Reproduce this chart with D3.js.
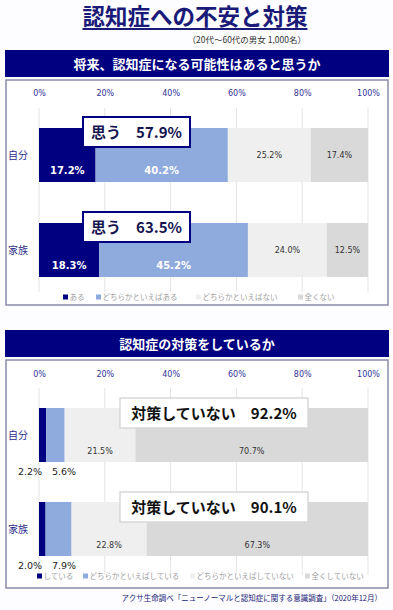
<!DOCTYPE html>
<html><head><meta charset="utf-8">
<script src="https://cdn.jsdelivr.net/npm/d3@7"></script>
<style>
html,body{margin:0;padding:0;background:#fff;}
svg{display:block;}
</style></head>
<body>
<script>
const rows = ["自分", "家族"];
const ticks = [0, 20, 40, 60, 80, 100];
// chart 1
const series1 = ["ある", "どちらかといえばある", "どちらかといえばない", "全くない"];
const values1 = [[17.2, 40.2, 25.2, 17.4], [18.3, 45.2, 24.0, 12.5]];
const callout1 = ["思う　57.9%", "思う　63.5%"];
// chart 2
const series2 = ["している", "どちらかといえばしている", "どちらかといえばしていない", "全くしていない"];
const values2 = [[2.2, 5.6, 21.5, 70.7], [2.0, 7.9, 22.8, 67.3]];
const callout2 = ["対策していない　92.2%", "対策していない　90.1%"];

const colors = ["#000080", "#8faadc", "#efefef", "#d9d9d9"];
const JP = "'Noto Sans CJK JP', 'Noto Sans', sans-serif";
const NUM = "'DejaVu Sans', Verdana, sans-serif";
const navy = "#000080";

const W = 393, H = 610;
const svg = d3.select("body").append("svg").attr("width", W).attr("height", H);
svg.append("rect").attr("width", W).attr("height", H).attr("fill", "#fdfdff");

// Title
const title = svg.append("text").attr("x", 195).attr("y", 25).attr("text-anchor", "middle")
  .attr("font-family", JP).attr("font-weight", 700).attr("font-size", 22.5).attr("fill", "#1a1a78")
  .text("認知症への不安と対策");
const tb = title.node().getBBox();
svg.append("rect").attr("x", tb.x).attr("y", 28).attr("width", tb.width).attr("height", 2).attr("fill", "#1a1a78");
svg.append("text").attr("x", 306).attr("y", 43).attr("text-anchor", "end")
  .attr("font-family", JP).attr("font-size", 8.5).attr("fill", "#333")
  .text("（20代〜60代の男女 1,000名）");

const x = d3.scaleLinear().domain([0, 100]).range([39, 368]);

function panel(cfg) {
  const g = svg.append("g");
  // header band
  g.append("rect").attr("x", 5).attr("y", cfg.bandY).attr("width", 384).attr("height", 27).attr("fill", navy);
  g.append("text").attr("x", 197).attr("y", cfg.bandY + 18.5).attr("text-anchor", "middle")
    .attr("font-family", JP).attr("font-weight", 700).attr("font-size", 13).attr("fill", "#fff").text(cfg.header);
  // panel box
  g.append("rect").attr("x", 6).attr("y", cfg.boxY).attr("width", 382).attr("height", cfg.boxH)
    .attr("fill", "#fff").attr("stroke", "#8a8aa8").attr("stroke-width", 1.5);
  // axis
  const axis = d3.axisTop(x).tickValues(ticks).tickFormat(d => d + "%").tickSize(0).tickPadding(0);
  const ag = g.append("g").attr("transform", `translate(0,${cfg.tickY})`).call(axis);
  ag.select(".domain").remove();
  ag.selectAll("text").attr("font-family", NUM).attr("font-size", 8).attr("fill", "#333399");
  // grid
  g.append("g").selectAll("line").data(ticks).join("line")
    .attr("x1", d => x(d)).attr("x2", d => x(d)).attr("y1", cfg.gridY0).attr("y2", cfg.gridY1)
    .attr("stroke", "#e4e4e4").attr("stroke-width", 1);
  const y = d3.scaleOrdinal().domain(rows).range(cfg.barY);
  cfg.values.forEach((vals, i) => {
    const r = rows[i];
    const y0 = y(r);
    const st = d3.stack().keys(d3.range(4))([vals]);
    st.forEach((s, k) => {
      const a = s[0][0], b = s[0][1];
      g.append("rect").attr("x", x(a)).attr("y", y0).attr("width", x(b) - x(a)).attr("height", cfg.barH)
        .attr("fill", colors[k]);
      cfg.label(g, k, vals[k], a, b, y0, i);
    });
    g.append("text").attr("x", 8).attr("y", y0 + cfg.barH / 2 + 4).attr("font-family", JP)
      .attr("font-size", 10).attr("fill", "#2e2e8a").text(r);
    // callout
    cfg.callout(g, i, y0);
  });
  // legend
  const lg = g.append("g");
  cfg.legendX.forEach((lx, k) => {
    lg.append("rect").attr("x", lx).attr("y", cfg.legendY - 5.5).attr("width", 5).attr("height", 5).attr("fill", colors[k]);
    lg.append("text").attr("x", lx + 6.5).attr("y", cfg.legendY).attr("font-family", JP).attr("font-size", 7.5)
      .attr("fill", "#a0a0a0").text(cfg.series[k]);
  });
}

panel({
  header: "将来、認知症になる可能性はあると思うか",
  bandY: 50, boxY: 80, boxH: 225, tickY: 96, gridY0: 108, gridY1: 292,
  barY: [128, 223], barH: 54, values: values1, series: series1,
  legendX: [63, 96, 196, 298], legendY: 300,
  label: (g, k, v, a, b, y0) => {
    const cx = x((a + b) / 2);
    const t = g.append("text").attr("x", cx).attr("text-anchor", "middle").attr("font-family", NUM)
      .text(v.toFixed(1) + "%");
    if (k < 2) t.attr("y", y0 + 46).attr("font-size", 10).attr("font-weight", 700).attr("fill", "#fff");
    else t.attr("y", y0 + 30).attr("font-size", 8).attr("fill", "#333");
  },
  callout: (g, i, y0) => {
    const by = y0 - 11;
    g.append("rect").attr("x", 83).attr("y", by).attr("width", 107).attr("height", 30)
      .attr("fill", "#fff").attr("stroke", navy).attr("stroke-width", 2);
    g.append("text").attr("x", 136.5).attr("y", by + 21).attr("text-anchor", "middle")
      .attr("font-family", JP).attr("font-weight", 700).attr("font-size", 15).attr("fill", "#141450")
      .text(callout1[i]);
  }
});

panel({
  header: "認知症の対策をしているか",
  bandY: 330, boxY: 360, boxH: 228, tickY: 377, gridY0: 388, gridY1: 575,
  barY: [408, 502], barH: 54, values: values2, series: series2,
  legendX: [37, 83, 190, 305], legendY: 579,
  label: (g, k, v, a, b, y0) => {
    if (k >= 2) {
      g.append("text").attr("x", x((a + b) / 2)).attr("y", y0 + 46).attr("text-anchor", "middle")
        .attr("font-family", NUM).attr("font-size", 8).attr("fill", "#333").text(v.toFixed(1) + "%");
    } else {
      g.append("text").attr("x", k === 0 ? 30 : 64).attr("y", y0 + 67).attr("text-anchor", "middle")
        .attr("font-family", NUM).attr("font-size", 9.5).attr("fill", "#222").text(v.toFixed(1) + "%");
    }
  },
  callout: (g, i, y0) => {
    const by = y0 - 10;
    g.append("rect").attr("x", 120).attr("y", by).attr("width", 188).attr("height", 30)
      .attr("fill", "#fff").attr("stroke", "#d8d8d8").attr("stroke-width", 1.5);
    g.append("text").attr("x", 214).attr("y", by + 21).attr("text-anchor", "middle")
      .attr("font-family", JP).attr("font-weight", 700).attr("font-size", 15).attr("fill", "#111")
      .text(callout2[i]);
  }
});

svg.append("text").attr("x", 382).attr("y", 601).attr("text-anchor", "end")
  .attr("font-family", JP).attr("font-size", 7.5).attr("fill", "#1a1a78")
  .text("アクサ生命調べ「ニューノーマルと認知症に関する意識調査」（2020年12月）");
</script>
</body></html>
